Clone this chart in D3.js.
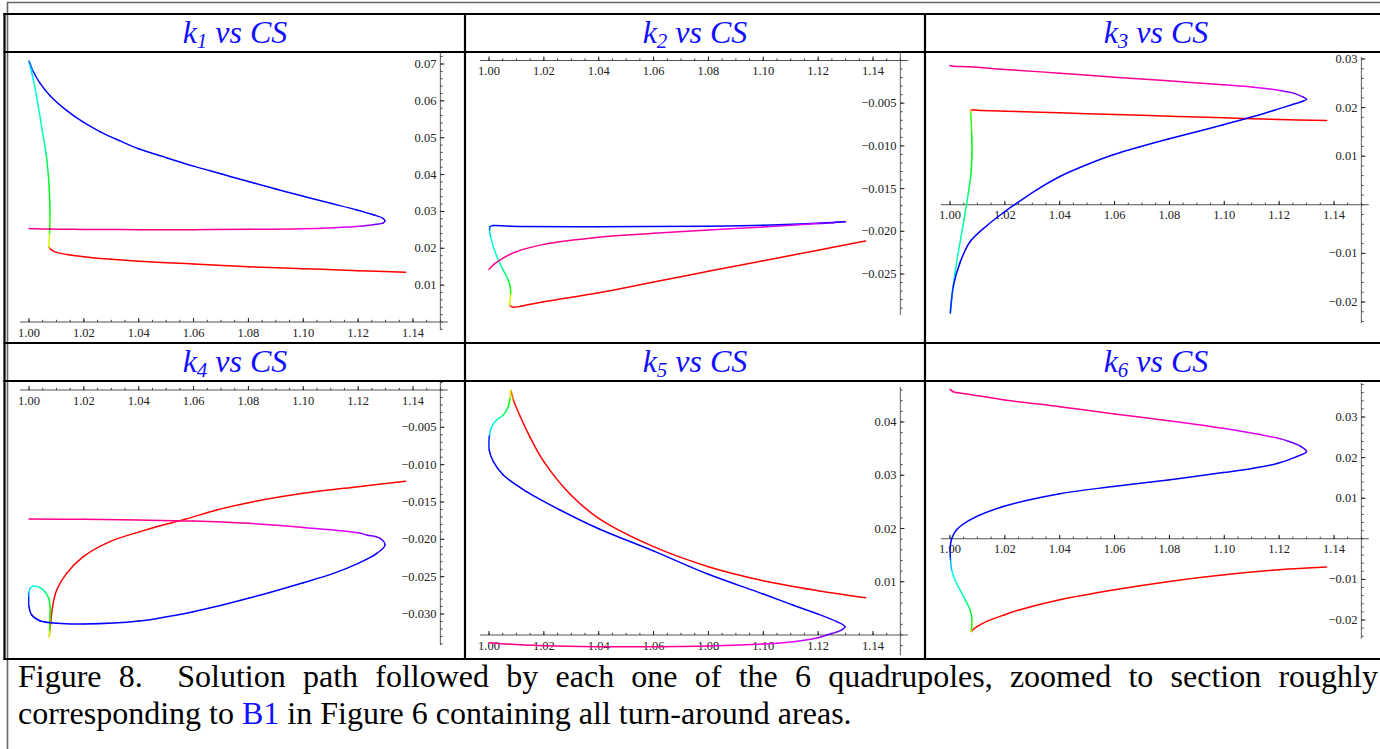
<!DOCTYPE html>
<html><head><meta charset="utf-8">
<script src="https://cdn.jsdelivr.net/npm/d3@7"></script>
<style>
html,body{margin:0;padding:0;background:#fff;}
svg{display:block;}
text{white-space:pre;}
</style></head><body>
<svg id="fig" width="1380" height="749"></svg>
<script>
// ---------------- DATA ----------------
// each point: [CS, k value, path parameter (hue fraction along the solution path)]
const k1Path = [
 [1.1373,0.01347,0],[1.12,0.01393,0],[1.10,0.01447,0],[1.08,0.0150,0],[1.06,0.01574,0],[1.04,0.01646,0],
 [1.03,0.0170,0],[1.02,0.01772,0],[1.015,0.01818,0],[1.010,0.0189,0],[1.0085,0.01944,0],[1.0077,0.0199,0.02],
 [1.0073,0.0204,0.1],
 [1.0075,0.0241,0.3],[1.00766,0.0295,0.33],[1.0074,0.0358,0.35],[1.0070,0.0403,0.37],[1.0062,0.0458,0.42],
 [1.0050,0.0512,0.45],[1.0034,0.0584,0.46],[1.0016,0.0657,0.48],[1.0000,0.0708,0.55],
 [1.0016,0.0679,0.65],[1.0040,0.0648,0.667],[1.0077,0.0614,0.667],[1.0137,0.0574,0.667],[1.0198,0.0542,0.667],
 [1.0260,0.0516,0.667],[1.0330,0.0492,0.667],[1.040,0.0470,0.667],[1.050,0.0446,0.667],[1.060,0.0423,0.667],
 [1.070,0.0402,0.667],[1.080,0.0381,0.667],[1.090,0.0361,0.667],[1.100,0.0341,0.667],[1.110,0.0322,0.667],
 [1.1195,0.0304,0.667],[1.1255,0.0291,0.667],[1.1289,0.0282,0.68],[1.1298,0.0275,0.7],
 [1.1292,0.0269,0.72],[1.1255,0.0264,0.75],[1.1207,0.0260,0.78],[1.111,0.0256,0.84],[1.0988,0.0253,0.88],
 [1.080,0.02514,0.9],[1.060,0.02505,0.91],[1.040,0.02505,0.91],[1.020,0.02512,0.91],[1.0077,0.0252,0.91],
 [1.000,0.0254,0.91]
];
const k2Path = [
 [1.1373,-0.02114,0],[1.12,-0.02221,0],[1.10,-0.02344,0],[1.08,-0.02469,0],[1.06,-0.02594,0],[1.04,-0.02719,0],
 [1.02,-0.02824,0],[1.012,-0.02875,0],[1.009,-0.0289,0],[1.0078,-0.02875,0.02],[1.0076,-0.02859,0.1],
 [1.0079,-0.02727,0.3],[1.0077,-0.02649,0.34],[1.0070,-0.02571,0.38],[1.0052,-0.02454,0.43],[1.0034,-0.02337,0.45],
 [1.0016,-0.0218,0.47],[1.0006,-0.02063,0.5],[1.0002,-0.01985,0.55],[1.0004,-0.01946,0.62],
 [1.0016,-0.01933,0.667],[1.0077,-0.01942,0.667],[1.04,-0.01946,0.667],[1.08,-0.0194,0.667],[1.10,-0.0193,0.667],
 [1.12,-0.01907,0.667],[1.130,-0.01887,0.7],
 [1.1255,-0.0190,0.73],[1.12,-0.0191,0.76],[1.10,-0.0195,0.84],[1.08,-0.01985,0.88],[1.06,-0.02024,0.9],
 [1.04,-0.0207,0.91],[1.02,-0.02153,0.91],[1.01,-0.02238,0.91],[1.005,-0.02316,0.91],[1.002,-0.02382,0.91],
 [1.000,-0.02445,0.91]
];
const k3Path = [
 [1.1373,0.01735,0],[1.12,0.01756,0],[1.10,0.0179,0],[1.08,0.01824,0],[1.06,0.01859,0],[1.04,0.01893,0],
 [1.02,0.01927,0],[1.01,0.01948,0],[1.0085,0.01955,0],[1.0078,0.01948,0.03],[1.0075,0.01914,0.1],
 [1.00755,0.01886,0.28],[1.0079,0.01475,0.32],[1.0080,0.01063,0.34],[1.00766,0.00652,0.36],[1.00668,0.0024,0.4],
 [1.0051,-0.00309,0.43],[1.0034,-0.00857,0.45],[1.0018,-0.01406,0.47],[1.00073,-0.01886,0.52],[1.0001,-0.02229,0.6],
 [1.0012,-0.0168,0.667],[1.00365,-0.0119,0.667],[1.0073,-0.0076,0.667],[1.0134,-0.0043,0.667],[1.0194,-0.00165,0.667],
 [1.0235,0.0,0.667],[1.0316,0.00309,0.667],[1.0401,0.00583,0.667],[1.0498,0.00823,0.667],[1.0595,0.01029,0.667],
 [1.0693,0.01195,0.667],[1.0796,0.01355,0.667],[1.0899,0.01505,0.667],[1.0996,0.01646,0.667],[1.1106,0.01815,0.667],
 [1.1179,0.0194,0.667],[1.1252,0.02068,0.667],[1.1288,0.02135,0.68],[1.1300,0.02174,0.7],
 [1.1288,0.02215,0.72],[1.1252,0.02298,0.75],[1.1203,0.02353,0.78],[1.1106,0.02421,0.84],[1.0996,0.02469,0.88],
 [1.0796,0.02551,0.9],[1.060,0.02627,0.91],[1.04,0.02709,0.91],[1.02,0.02785,0.91],[1.0073,0.0284,0.91],
 [1.0012,0.02853,0.91],[1.0000,0.02867,0.91]
];
const k4Path = [
 [1.1373,-0.01223,0],[1.12,-0.01295,0],[1.10,-0.01384,0],[1.08,-0.01509,0],[1.0684,-0.01607,0],[1.0569,-0.01732,0],
 [1.0478,-0.01817,0],[1.0405,-0.01897,0],[1.0295,-0.02031,0],[1.0198,-0.02232,0],[1.0137,-0.02456,0],
 [1.0101,-0.02679,0],[1.0086,-0.02902,0],[1.0079,-0.03125,0.02],[1.0074,-0.03304,0.1],
 [1.0075,-0.0321,0.3],[1.00766,-0.03036,0.32],[1.00766,-0.02902,0.34],[1.0072,-0.0279,0.37],[1.0058,-0.02701,0.42],
 [1.0038,-0.02643,0.45],[1.0016,-0.02625,0.47],[1.0004,-0.02656,0.5],[0.9999,-0.02723,0.55],
 [0.9999,-0.02777,0.62],[1.0,-0.02902,0.667],[1.001,-0.03014,0.667],[1.004,-0.0309,0.667],[1.0101,-0.03125,0.667],
 [1.0198,-0.03134,0.667],[1.04,-0.03094,0.667],[1.0599,-0.02969,0.667],[1.08,-0.0279,0.667],[1.1,-0.02581,0.667],
 [1.111,-0.02456,0.667],[1.12,-0.02322,0.667],[1.1268,-0.02188,0.68],[1.1298,-0.02076,0.7],
 [1.128,-0.01987,0.72],[1.1231,-0.01942,0.75],[1.12,-0.01911,0.77],[1.1,-0.0184,0.85],[1.08,-0.01786,0.89],
 [1.0599,-0.01755,0.91],[1.04,-0.01741,0.91],[1.02,-0.01732,0.91],[1.0,-0.01728,0.91]
];
const k5Path = [
 [1.1373,0.00701,0],[1.12,0.00833,0],[1.10,0.0102,0],[1.08,0.01283,0],[1.06,0.01659,0],[1.04,0.02191,0],
 [1.0295,0.02648,0],[1.02,0.03255,0],[1.015,0.03712,0],[1.0113,0.04113,0],[1.0089,0.04413,0.02],[1.0079,0.04601,0.1],
 [1.00766,0.0444,0.3],[1.0070,0.04288,0.36],[1.0052,0.04131,0.42],[1.0028,0.04038,0.45],[1.0010,0.03912,0.48],
 [1.0002,0.03756,0.55],
 [1.0001,0.03725,0.62],[1.0001,0.03474,0.667],[1.0016,0.03255,0.667],[1.0052,0.03005,0.667],[1.0137,0.02692,0.667],
 [1.0259,0.02347,0.667],[1.04,0.01995,0.667],[1.0599,0.01580,0.667],[1.08,0.01140,0.667],[1.10,0.00770,0.667],
 [1.111,0.00558,0.667],[1.12,0.00392,0.667],[1.1268,0.0025,0.68],[1.1298,0.00156,0.7],
 [1.128,0.00081,0.72],[1.1231,0.0,0.75],[1.12,-0.0005,0.77],[1.111,-0.00125,0.82],[1.10,-0.00169,0.86],
 [1.08,-0.00207,0.89],[1.0599,-0.00219,0.91],[1.04,-0.00219,0.91],[1.02,-0.002,0.91],[1.0077,-0.00175,0.91],
 [1.0,-0.00144,0.91]
];
const k6Path = [
 [1.1373,-0.00697,0],[1.12,-0.00762,0],[1.10,-0.00885,0],[1.08,-0.01049,0],[1.06,-0.01254,0],[1.04,-0.015,0],
 [1.0255,-0.01746,0],[1.02,-0.01869,0],[1.0134,-0.02033,0],[1.01,-0.02156,0],[1.0079,-0.02262,0.02],
 [1.00766,-0.02287,0.1],
 [1.0078,-0.02238,0.28],[1.0080,-0.01992,0.33],[1.0073,-0.01746,0.38],[1.0055,-0.015,0.43],[1.0036,-0.01254,0.45],
 [1.0018,-0.01008,0.47],[1.0006,-0.00762,0.5],[1.0002,-0.00516,0.58],
 [1.0001,-0.00434,0.64],[1.0001,-0.00189,0.667],[1.0006,0.0,0.667],[1.0024,0.00221,0.667],[1.0073,0.00467,0.667],
 [1.0194,0.00795,0.667],[1.0396,0.01106,0.667],[1.0595,0.01287,0.667],[1.0796,0.01451,0.667],[1.0996,0.01631,0.667],
 [1.1106,0.01738,0.667],[1.1196,0.0186,0.667],[1.1264,0.02024,0.68],[1.13,0.02147,0.7],
 [1.1276,0.02287,0.72],[1.1227,0.02418,0.75],[1.1196,0.02475,0.77],[1.0996,0.02721,0.85],[1.0796,0.0291,0.89],
 [1.06,0.03073,0.91],[1.04,0.03254,0.91],[1.02,0.03418,0.91],[1.0073,0.03557,0.91],[1.0012,0.03623,0.91],
 [1.0,0.0368,0.91]
];

const panelNames = ["1","2","3","4","5","6"];
const xTickValues = [1.00,1.02,1.04,1.06,1.08,1.10,1.12,1.14];
const xAxisRange = [0.9967, 1.1527];
const yAxisAt = 1.15;
const yTickValues = [
 [0.01,0.02,0.03,0.04,0.05,0.06,0.07],
 [-0.005,-0.010,-0.015,-0.020,-0.025],
 [-0.02,-0.01,0.01,0.02,0.03],
 [-0.005,-0.010,-0.015,-0.020,-0.025,-0.030],
 [0.01,0.02,0.03,0.04],
 [-0.02,-0.01,0.01,0.02,0.03]
];
const yTickFormats = [".2f",".3f",".2f",".3f",".2f",".2f"];
const yMinorSteps = [0.002,0.001,0.002,0.001,0.002,0.002];
const yAxisRanges = [[-0.0022,0.073],[-0.0298,0.00088],[-0.0243,0.0304],[-0.0342,0.0011],[-0.0038,0.0466],[-0.0246,0.0384]];
const paths = [k1Path,k2Path,k3Path,k4Path,k5Path,k6Path];

const captionLine1 = "Figure 8.  Solution path followed by each one of the 6 quadrupoles, zoomed to section roughly";
const captionLine2a = "corresponding to ";
const captionLine2b = "B1";
const captionLine2c = " in Figure 6 containing all turn-around areas.";

// ---------------- LAYOUT ----------------
const svg = d3.select("#fig");
const colX0 = [29, 489, 950];           // pixel of CS = 1.00 in each column
const xPxPer = 384;                      // pixels from 1.00 to 1.14
const yAnchors = [
 {d:[0,0.07], r:[322,64]},
 {d:[0,-0.025], r:[60.5,274]},
 {d:[0.03,-0.02], r:[59,302]},
 {d:[0,-0.030], r:[390,614]},
 {d:[0,0.04], r:[635,422]},
 {d:[0.03,-0.02], r:[417,620]}
];
const serif = "'Liberation Serif','Times New Roman',serif";

// frame
const gFrame = svg.append("g");
gFrame.append("line").attr("x1",7).attr("x2",1380).attr("y1",2.5).attr("y2",2.5).attr("stroke","#666").attr("stroke-width",1.6);
gFrame.append("line").attr("x1",7.5).attr("x2",7.5).attr("y1",2).attr("y2",749).attr("stroke","#666").attr("stroke-width",1.6);
[14,52,343,381,659].forEach(y=>{
  gFrame.append("line").attr("x1",3.5).attr("x2",1380).attr("y1",y).attr("y2",y).attr("stroke","#000").attr("stroke-width",2.2);
});
[4.5,465,925].forEach(x=>{
  gFrame.append("line").attr("x1",x).attr("x2",x).attr("y1",13).attr("y2",660).attr("stroke","#000").attr("stroke-width",2.2);
});

// titles
const titleCenters = [235, 695, 1156];
panelNames.forEach((n,i)=>{
  const col = i%3, row = Math.floor(i/3);
  const t = svg.append("text").attr("x",titleCenters[col]).attr("y",row?372:43)
    .attr("text-anchor","middle").attr("font-family",serif).attr("font-style","italic")
    .attr("font-size",32).attr("fill","#1010ff");
  t.append("tspan").text("k");
  t.append("tspan").attr("font-size",21).attr("dy",5).text(n);
  t.append("tspan").attr("dy",-5).text(" vs CS");
});

// segment-recording context so that d3's curve can be coloured piecewise
function segmentContext(){
  const segs=[]; let cx=0, cy=0;
  return {
    segs,
    moveTo(x,y){cx=x;cy=y;},
    lineTo(x,y){segs.push(`M${cx},${cy}L${x},${y}`);cx=x;cy=y;},
    bezierCurveTo(a,b,c,d,x,y){segs.push(`M${cx},${cy}C${a},${b},${c},${d},${x},${y}`);cx=x;cy=y;},
    closePath(){}
  };
}
const hueColor = d3.scaleLinear().domain([0,1]).range([0,360]);

paths.forEach((pts,i)=>{
  const col = i%3;
  const xs = d3.scaleLinear().domain([1.00,1.14]).range([colX0[col], colX0[col]+xPxPer]);
  const ys = d3.scaleLinear().domain(yAnchors[i].d).range(yAnchors[i].r);
  const g = svg.append("g");
  const y0 = ys(0), xa = xs(yAxisAt);
  g.append("line").attr("x1",xs(xAxisRange[0])).attr("x2",xs(xAxisRange[1])).attr("y1",y0).attr("y2",y0)
    .attr("stroke","#555").attr("stroke-width",1.1);
  g.append("line").attr("x1",xa).attr("x2",xa).attr("y1",ys(yAxisRanges[i][0])).attr("y2",ys(yAxisRanges[i][1]))
    .attr("stroke","#777").attr("stroke-width",1.2);
  const xMinor = d3.range(Math.ceil(xAxisRange[0]/0.005), Math.floor(xAxisRange[1]/0.005)+1).map(j=>j*0.005);
  xMinor.forEach(v=>{
    g.append("line").attr("x1",xs(v)).attr("x2",xs(v)).attr("y1",y0).attr("y2",y0-2.2).attr("stroke","#333").attr("stroke-width",0.9);
  });
  xTickValues.forEach(v=>{
    g.append("line").attr("x1",xs(v)).attr("x2",xs(v)).attr("y1",y0).attr("y2",y0-4).attr("stroke","#222").attr("stroke-width",1);
    g.append("text").attr("x",xs(v)).attr("y",y0+14.5).attr("text-anchor","middle")
      .attr("font-family",serif).attr("font-size",12.5).attr("fill","#222").text(d3.format(".2f")(v));
  });
  const st = yMinorSteps[i], yr = yAxisRanges[i];
  d3.range(Math.ceil(yr[0]/st), Math.floor(yr[1]/st)+1).map(j=>j*st).forEach(v=>{
    g.append("line").attr("x1",xa).attr("x2",xa+2.2).attr("y1",ys(v)).attr("y2",ys(v)).attr("stroke","#333").attr("stroke-width",0.9);
  });
  const fmt = d3.format(yTickFormats[i]);
  yTickValues[i].forEach(v=>{
    g.append("line").attr("x1",xa).attr("x2",xa+4).attr("y1",ys(v)).attr("y2",ys(v)).attr("stroke","#222").attr("stroke-width",1);
    g.append("text").attr("x",xa-4).attr("y",ys(v)+4).attr("text-anchor","end")
      .attr("font-family",serif).attr("font-size",12.5).attr("fill","#222").text(fmt(v));
  });
  const ctx = segmentContext();
  d3.line().x(d=>xs(d[0])).y(d=>ys(d[1])).curve(d3.curveCatmullRom.alpha(0.5)).context(ctx)(pts);
  ctx.segs.forEach((dStr,j)=>{
    const a = pts[Math.min(j,pts.length-1)], b = pts[Math.min(j+1,pts.length-1)];
    const h = (a[2]+b[2])/2;
    g.append("path").attr("d",dStr).attr("fill","none")
      .attr("stroke", d3.hsl(hueColor(h),1,0.5).formatHex())
      .attr("stroke-width",1.5).attr("stroke-linecap","round");
  });
});

// caption
const capSize = 32;
const words = captionLine1.split(" ");
const tmp = svg.append("text").attr("font-family",serif).attr("font-size",capSize);
const widths = words.map(w=>{ tmp.text(w); return w ? tmp.node().getComputedTextLength() : 0; });
tmp.remove();
const left = 18, right = 1378;
const gap = (right-left-d3.sum(widths))/(words.length-1);
let cx = left;
words.forEach((w,i)=>{
  if (w) svg.append("text").attr("x",cx).attr("y",687).attr("font-family",serif).attr("font-size",capSize).attr("fill","#000").text(w);
  cx += widths[i] + gap;
});
const t2 = svg.append("text").attr("x",left).attr("y",724).attr("font-family",serif).attr("font-size",capSize).attr("fill","#000");
t2.append("tspan").text(captionLine2a);
t2.append("tspan").attr("fill","#1010ff").text(captionLine2b);
t2.append("tspan").text(captionLine2c);
</script></body></html>
